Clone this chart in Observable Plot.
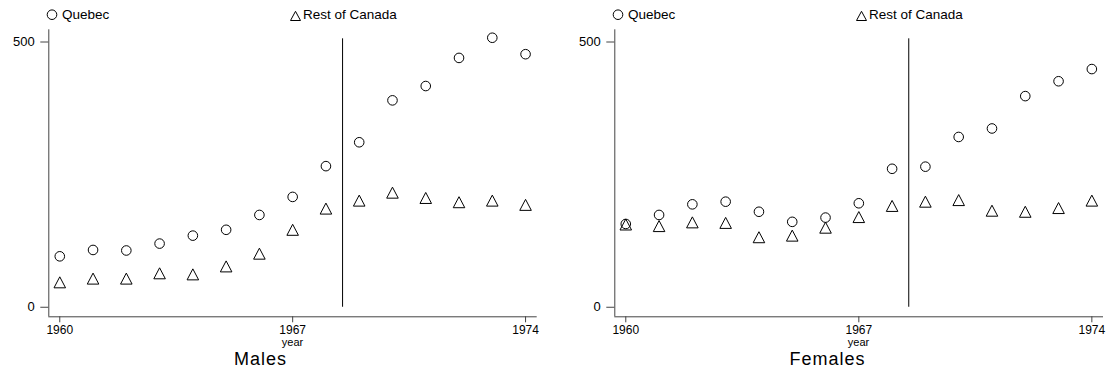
<!DOCTYPE html>
<html>
<head>
<meta charset="utf-8">
<script src="https://cdn.jsdelivr.net/npm/d3@7"></script>
<script src="https://cdn.jsdelivr.net/npm/@observablehq/plot@0.6"></script>
<style>
  html, body { margin: 0; padding: 0; background: #fff; }
  #root { position: relative; width: 1109px; height: 373px; overflow: hidden; font-family: "Liberation Sans", Arial, sans-serif; color: #000; }
  #root svg.plot text { font-size: 13px; font-family: "Liberation Sans", Arial, sans-serif; fill: #000; }
  #root svg.plot g[aria-label="x-axis tick label"] text { font-size: 12px; }
  .abs { position: absolute; white-space: nowrap; line-height: 1; }
  .leg { font-size: 13.5px; }
  .xlab { font-size: 11px; transform: translateX(-50%); }
  .ttl { font-size: 18px; letter-spacing: 1px; transform: translateX(-50%); }
</style>
</head>
<body>
<div id="root"></div>
<script>
// ---- data ----
const years = [1960, 1961, 1962, 1963, 1964, 1965, 1966, 1967, 1968, 1969, 1970, 1971, 1972, 1973, 1974];
const malesQuebec   = [96, 108, 107, 120, 135, 146, 174, 208, 266, 311, 390, 417, 470, 508, 477];
const malesRest     = [47, 54, 54, 64, 62, 77, 101, 146, 186, 201, 216, 206, 198, 201, 193];
const femalesQuebec = [157, 174, 194, 199, 180, 161, 169, 196, 261, 265, 321, 337, 398, 426, 449];
const femalesRest   = [156, 153, 160, 159, 132, 135, 150, 170, 191, 199, 202, 182, 180, 187, 201];
const seriesNames = ["Quebec", "Rest of Canada"];
const panelTitles = ["Males", "Females"];
const xTicks = [1960, 1967, 1974];
const yTicks = [0, 500];
const xLabel = "year";
const breakYear = 1968.5;
const breakTop = 506;

// ---- layout ----
const xDomain = [1959.67, 1974.35];
const yDomain = [-18, 523];
const svgTop = 26;

// taller-than-equilateral open triangle, centred on its bounding box
const triangle = {
  draw(context, size) {
    const r = Math.sqrt(size / Math.PI);
    context.moveTo(0, -r);
    context.lineTo(r * 1.05, r);
    context.lineTo(-r * 1.05, r);
    context.closePath();
  }
};

function panel(qVals, rVals, width, marginRight) {
  const q = years.map((year, i) => ({year, value: qVals[i]}));
  const r = years.map((year, i) => ({year, value: rVals[i]}));
  const svg = Plot.plot({
    width,
    height: 330,
    marginLeft: 48.3,
    marginRight,
    marginTop: 3.3,
    marginBottom: 39.7,
    style: {fontFamily: '"Liberation Sans", Arial, sans-serif', fontSize: "13px", color: "#000", background: "transparent", overflow: "visible"},
    x: {domain: xDomain},
    y: {domain: yDomain},
    marks: [
      Plot.ruleX([xDomain[0]], {stroke: "#444", strokeWidth: 1}),
      Plot.ruleY([yDomain[0]], {stroke: "#444", strokeWidth: 1}),
      Plot.axisY({ticks: yTicks, tickSize: 8, tickPadding: 6, tickFormat: "d", label: null, stroke: "#444", fontSize: 13}),
      Plot.axisX({ticks: xTicks, tickSize: 6, tickPadding: 2.7, tickFormat: "d", label: null, stroke: "#444", fontSize: 12}),
      Plot.ruleX([breakYear], {y1: 0, y2: breakTop, stroke: "#000", strokeWidth: 1}),
      Plot.dot(q, {x: "year", y: "value", r: 4.8, stroke: "#000", fill: "none", strokeWidth: 1}),
      Plot.dot(r, {x: "year", y: "value", r: 5.5, symbol: triangle, stroke: "#000", fill: "none", strokeWidth: 1})
    ]
  });
  svg.classList.add("plot");
  return svg;
}

const root = document.getElementById("root");
const panels = [
  {left: 0, width: 566, mr: 29.3, q: malesQuebec, r: malesRest, title: panelTitles[0], titleX: 260.5},
  {left: 566, width: 543, mr: 6, q: femalesQuebec, r: femalesRest, title: panelTitles[1], titleX: 261.5}
];

for (const p of panels) {
  const svg = panel(p.q, p.r, p.width, p.mr);
  svg.style.position = "absolute";
  svg.style.left = p.left + "px";
  svg.style.top = svgTop + "px";
  root.appendChild(svg);

  // legend
  const leg = document.createElement("div");
  leg.className = "abs";
  leg.style.left = p.left + "px";
  leg.style.top = "0px";
  leg.innerHTML =
    `<svg width="320" height="26" style="position:absolute;left:0;top:0;overflow:visible">
       <circle cx="52" cy="14.7" r="4.8" fill="none" stroke="#000" stroke-width="1"/>
       <path d="M290.5,20.5L300.5,20.5L295.5,11.3Z" fill="none" stroke="#000" stroke-width="1"/>
     </svg>
     <span class="abs leg" style="left:62px;top:7.6px">${seriesNames[0]}</span>
     <span class="abs leg" style="left:303px;top:7.6px">${seriesNames[1]}</span>`;
  root.appendChild(leg);

  // x label
  const xl = document.createElement("div");
  xl.className = "abs xlab";
  xl.style.left = (p.left + 292.5) + "px";
  xl.style.top = "336.9px";
  xl.textContent = xLabel;
  root.appendChild(xl);

  // panel title
  const tt = document.createElement("div");
  tt.className = "abs ttl";
  tt.style.left = (p.left + p.titleX) + "px";
  tt.style.top = "349.7px";
  tt.textContent = p.title;
  root.appendChild(tt);
}
</script>
</body>
</html>
